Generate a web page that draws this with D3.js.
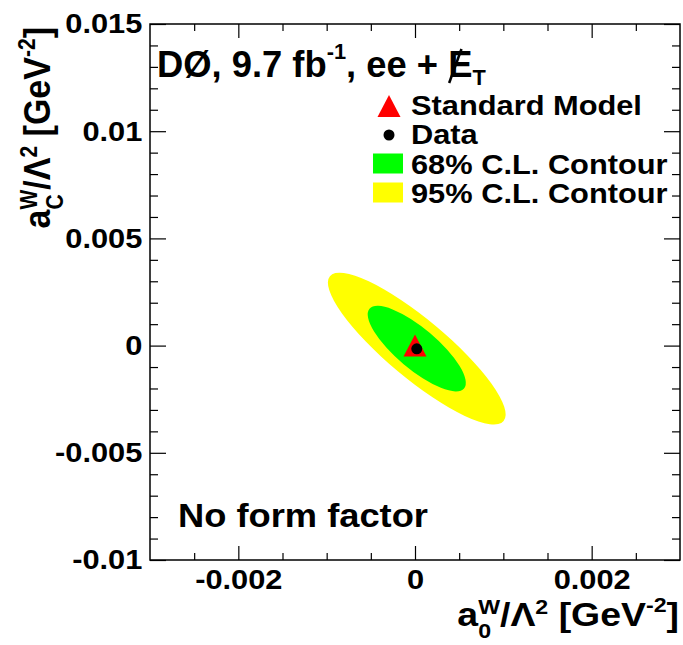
<!DOCTYPE html>
<html>
<head>
<meta charset="utf-8">
<script src="https://cdn.jsdelivr.net/npm/d3@7"></script>
<style>
  body { margin: 0; background: #fff; }
  text { font-family: "Liberation Sans", Arial, Helvetica, sans-serif; font-weight: bold; fill: #000; }
</style>
</head>
<body>
<svg id="chart" width="683" height="645"></svg>
<script>
// axis ranges and ticks
var xDomain = [-0.003, 0.003];
var yDomain = [-0.01, 0.015];
var xMajor = [-0.002, 0, 0.002];
var xTickLabels = ["-0.002", "0", "0.002"];
var yMajor = [-0.01, -0.005, 0, 0.005, 0.01, 0.015];
var yTickLabels = ["-0.01", "-0.005", "0", "0.005", "0.01", "0.015"];

// contours: centre, end of long axis, end of short axis
var contourNames = ["95% C.L. Contour", "68% C.L. Contour"];
var contourCenters = [[0.00002, -0.00014], [0.00002, -0.00014]];
var contourMajorEnds = [[0.001003, -0.00352], [0.000555, -0.00200]];
var contourMinorEnds = [[0.000235, 0.000915], [0.000165, 0.0006]];

// points
var smPoint = [0, 0];
var dataPoint = [0.00002, -0.00015];

var contourColors = ["#ffff00", "#00ff00"];

var svg = d3.select("#chart");
var frameL = 150, frameR = 680, frameT = 24, frameB = 560;
var sx = 1.1; // text in the original is a little wide

var x = d3.scaleLinear().domain(xDomain).range([frameL, frameR]);
var y = d3.scaleLinear().domain(yDomain).range([frameB, frameT]);

// contours, drawn as ellipses through the scales
var plot = svg.append("g");
for (var i = 0; i < contourNames.length; i++) {
  var c = [x(contourCenters[i][0]), y(contourCenters[i][1])];
  var m = [x(contourMajorEnds[i][0]), y(contourMajorEnds[i][1])];
  var n = [x(contourMinorEnds[i][0]), y(contourMinorEnds[i][1])];
  var rx = Math.hypot(m[0] - c[0], m[1] - c[1]);
  var ry = Math.hypot(n[0] - c[0], n[1] - c[1]);
  var ang = Math.atan2(m[1] - c[1], m[0] - c[0]) * 180 / Math.PI;
  plot.append("ellipse")
    .attr("cx", c[0]).attr("cy", c[1])
    .attr("rx", rx).attr("ry", ry)
    .attr("transform", "rotate(" + ang + "," + c[0] + "," + c[1] + ")")
    .attr("fill", contourColors[i]);
}

function triangle(cx, cy) {
  return "M" + cx + "," + (cy - 11) + "L" + (cx + 11.5) + "," + (cy + 11) + "L" + (cx - 11.5) + "," + (cy + 11) + "Z";
}

plot.append("path").attr("d", triangle(x(smPoint[0]), y(smPoint[1]))).attr("fill", "#ff0000");
plot.append("circle").attr("cx", x(dataPoint[0])).attr("cy", y(dataPoint[1])).attr("r", 5.5).attr("fill", "#000");

// axes
function minorTicks(lo, hi, step, majors) {
  return d3.range(Math.round(lo / step), Math.round(hi / step) + 1)
    .map(function (k) { return k * step; })
    .filter(function (v) { return !majors.some(function (mj) { return Math.abs(mj - v) < step / 10; }); });
}
var xMinor = minorTicks(-0.0025, 0.0025, 0.0005, xMajor);
var yMinor = minorTicks(-0.009, 0.014, 0.001, yMajor);

function styleAxis(g) {
  g.select(".domain").remove();
  g.selectAll("line").attr("stroke", "#000").attr("stroke-width", 1.2);
}

svg.append("g").attr("transform", "translate(0," + frameB + ")")
  .call(d3.axisBottom(x).tickValues(xMajor).tickSize(-14).tickPadding(9)
    .tickFormat(function (d, i) { return xTickLabels[i]; }))
  .call(styleAxis)
  .selectAll("text").attr("font-size", 28).attr("font-family", null)
  .attr("transform", "scale(" + sx + ",1)");
svg.append("g").attr("transform", "translate(0," + frameB + ")")
  .call(d3.axisBottom(x).tickValues(xMinor).tickSize(-7).tickFormat(""))
  .call(styleAxis);
svg.append("g").attr("transform", "translate(0," + frameT + ")")
  .call(d3.axisTop(x).tickValues(xMajor).tickSize(-14).tickFormat(""))
  .call(styleAxis);
svg.append("g").attr("transform", "translate(0," + frameT + ")")
  .call(d3.axisTop(x).tickValues(xMinor).tickSize(-7).tickFormat(""))
  .call(styleAxis);

svg.append("g").attr("transform", "translate(" + frameL + ",0)")
  .call(d3.axisLeft(y).tickValues(yMajor).tickSize(-16).tickPadding(7)
    .tickFormat(function (d, i) { return yTickLabels[i]; }))
  .call(styleAxis)
  .selectAll("text").attr("font-size", 28).attr("font-family", null)
  .attr("transform", "scale(" + sx + ",1)");
svg.append("g").attr("transform", "translate(" + frameL + ",0)")
  .call(d3.axisLeft(y).tickValues(yMinor).tickSize(-8).tickFormat(""))
  .call(styleAxis);
svg.append("g").attr("transform", "translate(" + frameR + ",0)")
  .call(d3.axisRight(y).tickValues(yMajor).tickSize(-16).tickFormat(""))
  .call(styleAxis);
svg.append("g").attr("transform", "translate(" + frameR + ",0)")
  .call(d3.axisRight(y).tickValues(yMinor).tickSize(-8).tickFormat(""))
  .call(styleAxis);

svg.append("rect").attr("x", frameL).attr("y", frameT)
  .attr("width", frameR - frameL).attr("height", frameB - frameT)
  .attr("fill", "none").attr("stroke", "#000").attr("stroke-width", 1.5);

// rich text: parts with size factor s, baseline shift yy (em), stack = put under previous part
function rich(g, parts, size, anchor) {
  var t = g.append("text").attr("font-size", size).attr("text-anchor", anchor || "start");
  var cur = 0, prevLen = 0, pending = 0, nodes = [];
  parts.forEach(function (p) {
    var fs = size * (p.s || 1);
    var shift = (p.yy || 0) * size;
    var s = t.append("tspan").text(p.t).attr("font-size", fs).attr("dy", shift - cur);
    cur = shift;
    var len = s.node().getComputedTextLength();
    if (p.stack) {
      s.attr("dx", -prevLen);
      pending = Math.max(0, prevLen - len);
    } else {
      if (pending) s.attr("dx", pending);
      pending = 0;
    }
    prevLen = len;
    nodes.push(s);
  });
  return { text: t, spans: nodes };
}

// axis titles
var titleParts = function (sub) {
  return [
    { t: "a" },
    { t: "W", s: 0.62, yy: -0.36 },
    { t: sub, s: 0.62, yy: 0.36, stack: true },
    { t: "/\u039b" },
    { t: "2", s: 0.62, yy: -0.36 },
    { t: " [GeV" },
    { t: "-2", s: 0.62, yy: -0.4 },
    { t: "]" }
  ];
};
var xt = svg.append("g").attr("transform", "translate(679,626) scale(" + sx + ",1)");
rich(xt, titleParts("0"), 34, "end");

var yt = svg.append("g").attr("transform", "translate(50,27) scale(" + sx + ",1) rotate(-90)");
rich(yt, titleParts("C"), 34, "end");

// header
var hd = svg.append("g").attr("transform", "translate(157,77) scale(1.01,1)");
var head = rich(hd, [
  { t: "D\u00d8, 9.7 fb" },
  { t: "-1", s: 0.6, yy: -0.5 },
  { t: ", ee + " },
  { t: "E" },
  { t: "T", s: 0.6, yy: 0.22 }
], 36);
var eb = head.spans[3].node().getBBox();
hd.append("line")
  .attr("x1", eb.x + 1).attr("y1", 6)
  .attr("x2", eb.x + eb.width * 0.55).attr("y2", -28)
  .attr("stroke", "#000").attr("stroke-width", 2.5);

svg.append("g").attr("transform", "translate(178,527) scale(" + sx + ",1)")
  .append("text").attr("font-size", 33).text("No form factor");

// legend
var legendRows = [115, 144, 173.5, 202.5];
var legendLabels = ["Standard Model", "Data", contourNames[1], contourNames[0]];
var lg = svg.append("g");
lg.append("path").attr("d", triangle(389, legendRows[0] - 9)).attr("fill", "#ff0000");
lg.append("circle").attr("cx", 389).attr("cy", legendRows[1] - 9).attr("r", 5.5).attr("fill", "#000");
lg.append("rect").attr("x", 373).attr("y", legendRows[2] - 20).attr("width", 30).attr("height", 20).attr("fill", contourColors[1]);
lg.append("rect").attr("x", 373).attr("y", legendRows[3] - 20).attr("width", 30).attr("height", 20).attr("fill", contourColors[0]);
legendLabels.forEach(function (lab, i) {
  lg.append("g").attr("transform", "translate(411," + legendRows[i] + ") scale(" + sx + ",1)")
    .append("text").attr("font-size", 28).text(lab);
});
</script>
</body>
</html>
